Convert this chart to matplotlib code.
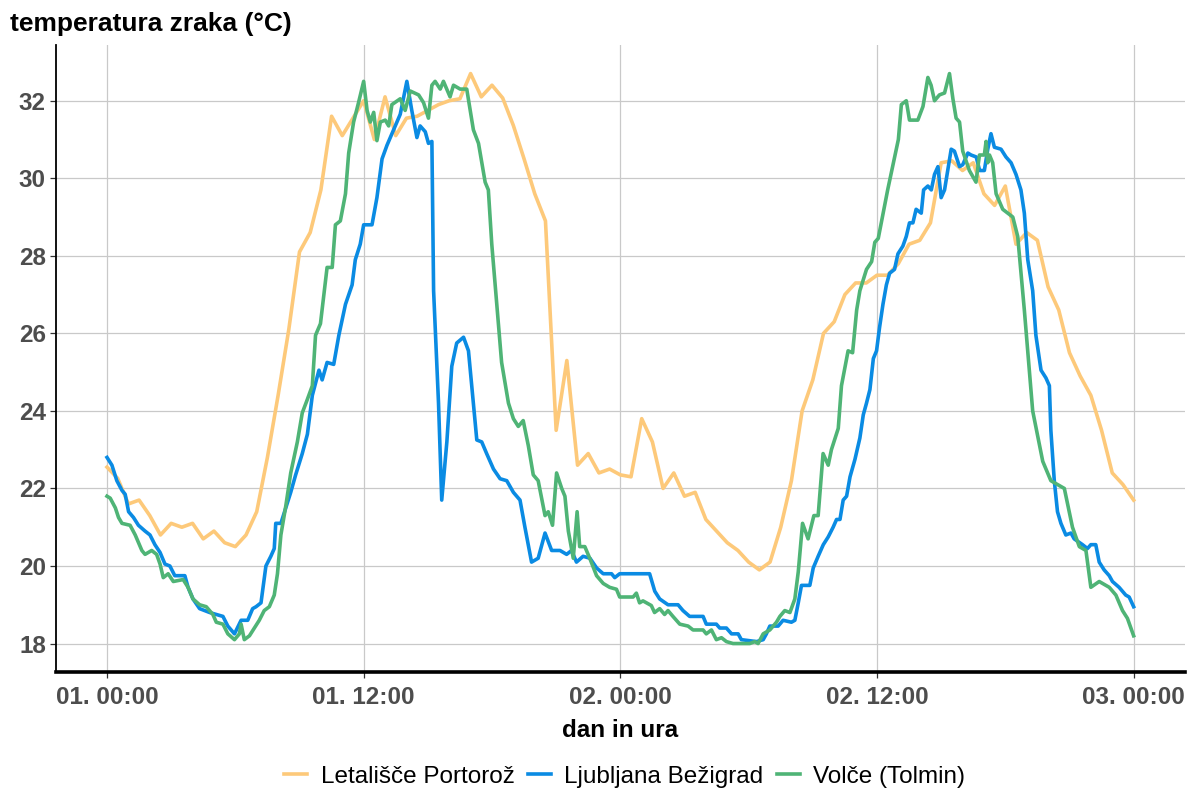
import numpy as np
import matplotlib
matplotlib.use("Agg")
import matplotlib.pyplot as plt

plt.rcParams["font.family"] = ["Liberation Sans", "DejaVu Sans"]

# Letališče Portorož, polurni podatki (ure od 01. 00:00)
port_hours = np.arange(0, 48.5, 0.5)
port_temp = [
    22.55, 22.26, 21.6, 21.7, 21.3, 20.8, 21.1, 21.0, 21.1, 20.7, 20.9, 20.6,
    20.5, 20.8, 21.4, 22.8, 24.4, 26.1, 28.1, 28.6, 29.7, 31.6, 31.1, 31.55,
    32.0, 31.0, 32.1, 31.1, 31.55, 31.6, 31.75, 31.9, 32.0, 32.05, 32.7, 32.1,
    32.4, 32.07, 31.36, 30.5, 29.6, 28.9, 23.5, 25.3, 22.6, 22.9, 22.4, 22.5,
    22.35, 22.3, 23.8, 23.2, 22.0, 22.4, 21.8, 21.9, 21.2, 20.9, 20.6, 20.4,
    20.1, 19.9, 20.1, 21.0, 22.2, 24.0, 24.8, 26.0, 26.3, 27.0, 27.3, 27.3,
    27.5, 27.5, 27.8, 28.3, 28.4, 28.85, 30.4, 30.45, 30.2, 30.4, 29.6, 29.3,
    29.8, 28.3, 28.6, 28.4, 27.2, 26.6, 25.5, 24.9, 24.4, 23.5, 22.4, 22.1,
    21.7,
]

# Ljubljana Bežigrad
lj_hours = [
    0, 0.23, 0.46, 0.7, 0.85, 1.01, 1.24, 1.47, 1.78, 2.01, 2.24, 2.48, 2.71,
    2.94, 3.17, 3.64, 3.79, 4.02, 4.33, 4.8, 5.11, 5.42, 5.65, 5.96, 6.27,
    6.58, 6.81, 6.97, 7.2, 7.43, 7.66, 7.82, 7.89, 8.13, 8.36, 8.59, 8.82,
    9.13, 9.37, 9.6, 9.91, 10.06, 10.29, 10.6, 10.84, 11.15, 11.46, 11.61,
    11.84, 12.0, 12.39, 12.62, 12.86, 13.09, 13.4, 13.71, 14.02, 14.25, 14.49,
    14.64, 14.88, 15.03, 15.19, 15.27, 15.5, 15.65, 15.89, 16.12, 16.35,
    16.67, 16.9, 17.13, 17.29, 17.52, 17.75, 18.07, 18.38, 18.69, 19.0,
    19.31, 19.54, 19.85, 20.16, 20.48, 20.79, 21.18, 21.49, 21.72, 21.95,
    22.26, 22.58, 22.89, 23.2, 23.59, 23.74, 23.97, 25.37, 25.61, 25.84,
    26.23, 26.7, 26.93, 27.24, 27.87, 28.02, 28.49, 28.65, 28.96, 29.2,
    29.51, 29.66, 30.37, 30.68, 30.83, 30.99, 31.38, 31.61, 32.0, 32.16,
    32.32, 32.47, 32.86, 33.02, 33.25, 33.49, 33.72, 33.95, 34.11, 34.27,
    34.42, 34.58, 34.74, 34.97, 35.2, 35.36, 35.51, 35.67, 35.83, 35.98,
    36.12, 36.28, 36.44, 36.59, 36.82, 36.98, 37.21, 37.37, 37.52, 37.68,
    37.83, 38.07, 38.18, 38.38, 38.54, 38.69, 38.85, 39.0, 39.16, 39.31,
    39.47, 39.62, 39.86, 40.01, 40.25, 40.4, 40.64, 40.8, 41.02, 41.18,
    41.33, 41.49, 41.8, 42.03, 42.27, 42.5, 42.73, 42.89, 43.05, 43.28,
    43.43, 43.67, 43.9, 44.06, 44.13, 44.29, 44.44, 44.6, 44.83, 45.07,
    45.22, 45.61, 45.84, 46.0, 46.23, 46.39, 46.62, 46.86, 47.01, 47.32,
    47.63, 47.79, 48.0,
]
lj_temp = [
    22.8, 22.6, 22.2, 21.95, 21.85, 21.4, 21.25, 21.05, 20.9, 20.8, 20.55,
    20.35, 20.05, 20.0, 19.75, 19.75, 19.45, 19.15, 18.9, 18.8, 18.75, 18.7,
    18.45, 18.25, 18.6, 18.6, 18.9, 18.95, 19.05, 20.0, 20.25, 20.45, 21.1,
    21.1, 21.5, 21.9, 22.35, 22.9, 23.4, 24.4, 25.05, 24.8, 25.25, 25.2,
    25.95, 26.75, 27.25, 27.9, 28.3, 28.8, 28.8, 29.5, 30.5, 30.85, 31.25,
    31.65, 32.5, 31.75, 31.05, 31.35, 31.2, 30.9, 30.95, 27.1, 24.2, 21.7,
    23.2, 25.15, 25.75, 25.9, 25.55, 24.2, 23.25, 23.2, 22.9, 22.5, 22.25,
    22.2, 21.9, 21.7, 21.0, 20.1, 20.2, 20.85, 20.4, 20.4, 20.3, 20.4, 20.1,
    20.25, 20.2, 19.95, 19.8, 19.8, 19.7, 19.8, 19.8, 19.35, 19.15, 19.0,
    19.0, 18.85, 18.7, 18.7, 18.5, 18.5, 18.4, 18.4, 18.25, 18.25, 18.1,
    18.05, 18.1, 18.25, 18.45, 18.45, 18.6, 18.55, 18.6, 19.05, 19.5, 19.5,
    19.95, 20.25, 20.55, 20.75, 21.0, 21.2, 21.2, 21.7, 21.8, 22.3, 22.75,
    23.3, 23.9, 24.2, 24.55, 25.35, 25.55, 26.15, 26.75, 27.25, 27.55,
    27.65, 28.05, 28.25, 28.5, 28.85, 28.85, 29.2, 29.1, 29.7, 29.8, 29.7,
    30.1, 30.3, 29.5, 29.7, 30.2, 30.75, 30.7, 30.3, 30.35, 30.65, 30.6,
    30.55, 30.2, 30.2, 30.75, 31.15, 30.8, 30.75, 30.55, 30.4, 30.1, 29.7,
    29.1, 27.9, 27.1, 25.95, 25.05, 24.85, 24.65, 23.5, 22.2, 21.4, 21.1,
    20.8, 20.85, 20.7, 20.55, 20.45, 20.55, 20.55, 20.1, 19.9, 19.75, 19.6,
    19.45, 19.25, 19.2, 18.95,
]

# Volče (Tolmin)
vol_hours = [
    0, 0.15, 0.39, 0.54, 0.7, 1.08, 1.32, 1.63, 1.78, 2.09, 2.32, 2.48, 2.63,
    2.86, 3.1, 3.56, 3.79, 4.02, 4.33, 4.64, 4.95, 5.11, 5.42, 5.65, 5.96,
    6.19, 6.27, 6.42, 6.66, 6.89, 7.12, 7.35, 7.59, 7.82, 7.97, 8.13, 8.36,
    8.59, 8.9, 9.13, 9.37, 9.6, 9.75, 9.98, 10.14, 10.29, 10.53, 10.68,
    10.91, 11.15, 11.3, 11.53, 11.76, 12.0, 12.16, 12.31, 12.47, 12.62,
    12.78, 13.01, 13.17, 13.32, 13.71, 13.94, 14.18, 14.57, 14.8, 15.03,
    15.19, 15.34, 15.58, 15.73, 16.04, 16.2, 16.51, 16.82, 16.98, 17.13,
    17.37, 17.68, 17.83, 17.99, 18.45, 18.77, 19.0, 19.23, 19.46, 19.7,
    19.93, 20.16, 20.48, 20.63, 20.83, 21.02, 21.26, 21.41, 21.57, 21.8,
    21.98, 22.1, 22.34, 22.57, 22.89, 23.2, 23.5, 23.82, 23.97, 24.6, 24.75,
    24.9, 25.06, 25.45, 25.6, 25.84, 26.07, 26.23, 26.46, 26.78, 27.17,
    27.4, 27.87, 28.02, 28.26, 28.49, 28.73, 28.96, 29.27, 30.05, 30.29,
    30.44, 30.68, 30.99, 31.3, 31.46, 31.69, 31.93, 32.16, 32.32, 32.52,
    32.78, 33.05, 33.25, 33.48, 33.72, 33.87, 34.19, 34.34, 34.65, 34.86,
    35.05, 35.2, 35.51, 35.75, 35.9, 36.06, 36.5, 37.0, 37.14, 37.37, 37.52,
    37.91, 38.15, 38.38, 38.53, 38.69, 38.92, 39.16, 39.39, 39.55, 39.7,
    39.86, 40.01, 40.32, 40.63, 40.79, 41.02, 41.1, 41.18, 41.26, 41.41,
    41.57, 41.88, 42.35, 42.58, 42.89, 43.28, 43.75, 44.13, 44.76, 45.14,
    45.46, 45.77, 46.0, 46.39, 46.86, 47.17, 47.48, 47.71, 48.0,
]
vol_temp = [
    21.8, 21.75, 21.5, 21.25, 21.1, 21.05, 20.8, 20.4, 20.3, 20.4, 20.3,
    20.05, 19.7, 19.8, 19.6, 19.65, 19.45, 19.15, 19.0, 18.95, 18.75, 18.55,
    18.5, 18.25, 18.1, 18.25, 18.5, 18.1, 18.2, 18.4, 18.6, 18.85, 18.95,
    19.25, 19.8, 20.8, 21.55, 22.4, 23.2, 23.95, 24.3, 24.65, 25.95, 26.25,
    27.0, 27.7, 27.7, 28.8, 28.9, 29.6, 30.65, 31.45, 31.95, 32.5, 31.75,
    31.45, 31.7, 30.97, 31.45, 31.5, 31.35, 31.9, 32.05, 31.75, 32.25, 32.15,
    31.95, 31.55, 32.4, 32.5, 32.3, 32.5, 32.1, 32.4, 32.3, 32.3, 31.75,
    31.25, 30.9, 29.9, 29.7, 28.3, 25.25, 24.2, 23.8, 23.6, 23.75, 23.1,
    22.35, 22.2, 21.3, 21.4, 21.05, 22.4, 22.0, 21.8, 20.9, 20.2, 21.4, 20.5,
    20.5, 20.2, 19.75, 19.55, 19.45, 19.4, 19.2, 19.2, 19.3, 19.05, 19.1,
    18.98, 18.8, 18.9, 18.75, 18.85, 18.7, 18.5, 18.45, 18.35, 18.35, 18.25,
    18.35, 18.1, 18.15, 18.05, 18.0, 18.0, 18.05, 18.0, 18.25, 18.35, 18.55,
    18.7, 18.85, 18.8, 19.15, 19.85, 21.1, 20.7, 21.3, 21.3, 22.9, 22.6,
    23.0, 23.55, 24.65, 25.55, 25.5, 26.6, 27.1, 27.65, 27.85, 28.35, 28.45,
    29.7, 31.0, 31.9, 32.0, 31.5, 31.5, 31.85, 32.6, 32.4, 32.0, 32.15, 32.2,
    32.7, 32.05, 31.55, 31.45, 30.7, 30.2, 29.9, 30.6, 30.6, 30.95, 30.4,
    30.6, 30.4, 29.6, 29.2, 29.0, 28.5, 26.6, 24.0, 22.7, 22.2, 22.0, 21.0,
    20.5, 20.4, 19.45, 19.6, 19.45, 19.25, 18.85, 18.65, 18.2,
]

series = [
    ("Letališče Portorož", port_hours, port_temp, "#FDC97A"),
    ("Ljubljana Bežigrad", lj_hours, lj_temp, "#0A8BE3"),
    ("Volče (Tolmin)", vol_hours, vol_temp, "#4FB476"),
]

tick_hours = [0, 12, 24, 36, 48]
tick_labels = ["01. 00:00", "01. 12:00", "02. 00:00", "02. 12:00", "03. 00:00"]
y_ticks = [18, 20, 22, 24, 26, 28, 30, 32]

fig = plt.figure(figsize=(11.92, 7.91), dpi=100)
ax = fig.add_axes([0.0467, 0.1504, 0.9474, 0.7926])

for name, h, t, col in series:
    ax.plot(h, t, color=col, lw=2.6, label=name, solid_joinstyle="round")

ax.set_xlim(-2.4, 50.4)
ax.set_ylim(17.265, 33.435)
ax.set_xticks(tick_hours)
ax.set_xticklabels(tick_labels)
ax.set_yticks(y_ticks)

ax.grid(True, color="#C9C9C9", lw=0.9)
ax.set_axisbelow(True)
for s in ["top", "right"]:
    ax.spines[s].set_visible(False)
ax.spines["left"].set_linewidth(1.3)
ax.spines["bottom"].set_linewidth(2.6)
ax.spines["left"].set_color("black")
ax.spines["bottom"].set_color("black")

ax.tick_params(axis="both", length=4, width=0.9, color="#333333",
               labelcolor="#4D4D4D", labelsize=17.5)
for lab in ax.get_xticklabels() + ax.get_yticklabels():
    lab.set_fontweight("bold")
ax.tick_params(axis="x", pad=6)
ax.tick_params(axis="y", pad=3)

fig.text(0.008, 0.985, "temperatura zraka (°C)", fontsize=19,
         fontweight="bold", va="top", ha="left")
fig.text(0.52, 0.077, "dan in ura", fontsize=17.5, fontweight="bold",
         ha="center", va="center")

fig.legend(loc="center", bbox_to_anchor=(0.524, 0.018), ncol=3,
           frameon=False, fontsize=17.5, handlelength=0.95, handletextpad=0.55,
           columnspacing=0.55, borderaxespad=0)

fig.savefig("out.png", dpi=100)
